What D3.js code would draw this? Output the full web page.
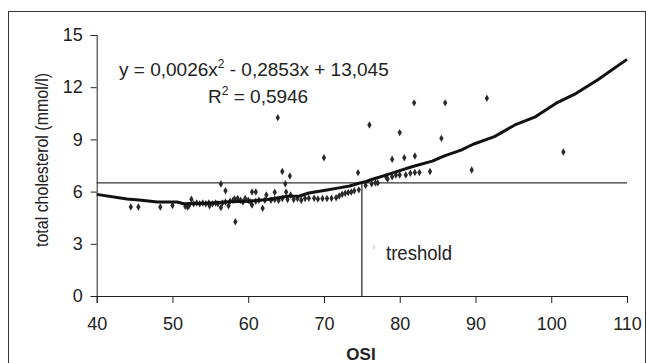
<!DOCTYPE html>
<html>
<head>
<meta charset="utf-8">
<script src="https://cdn.jsdelivr.net/npm/d3@7"></script>
<style>
  body { margin: 0; background: #fff; }
  text { font-family: "Liberation Sans", Arial, sans-serif; fill: #222; }
</style>
</head>
<body>
<div id="chart"></div>
<script>
// scatter points: [OSI, total cholesterol]
const points = [
  [44.5,5.12],[45.5,5.12],[48.4,5.12],[50.0,5.2],[51.7,5.15],[52.0,5.12],[52.2,5.2],[52.5,5.56],
  [52.8,5.3],[53.2,5.35],[53.6,5.3],[54.0,5.35],[54.4,5.3],[54.8,5.35],[54.9,5.18],[55.3,5.3],
  [55.7,5.35],[56.0,5.3],[56.4,5.08],[56.4,6.44],[56.6,5.35],[57.0,6.05],[57.0,5.4],[57.4,5.18],
  [57.6,5.45],[58.0,5.5],[58.2,5.58],[58.3,4.27],[58.6,5.6],[59.0,5.5],[59.3,5.4],[59.6,5.6],
  [60.0,5.5],[60.3,5.4],[60.5,5.98],[60.5,5.23],[61.0,5.98],[61.0,5.45],[61.4,5.5],[61.9,5.04],
  [62.2,5.5],[62.4,5.8],[63.0,5.5],[63.5,5.96],[63.5,5.55],[63.9,10.25],[64.0,5.5],[64.5,7.16],
  [64.5,5.6],[64.9,6.45],[65.0,5.98],[65.2,5.55],[65.5,6.9],[65.6,5.8],[66.0,5.55],[66.5,5.6],
  [67.0,5.5],[67.5,5.6],[68.0,5.62],[68.7,5.62],[69.2,5.58],[69.8,5.6],[70.0,7.95],[70.4,5.6],
  [71.0,5.62],[71.6,5.65],[72.0,5.75],[72.4,5.85],[72.8,5.9],[73.2,5.95],[73.6,5.98],[74.0,6.05],
  [74.5,7.09],[74.6,6.1],[75.5,6.35],[76.0,9.83],[76.3,6.45],[76.8,6.5],[77.1,6.5],[78.2,6.85],
  [78.4,6.72],[79.0,7.86],[79.0,6.85],[79.5,6.95],[80.0,9.39],[80.0,6.95],[80.6,7.95],[80.8,6.95],
  [81.4,7.05],[81.9,11.1],[82.0,8.05],[82.0,7.1],[82.6,7.1],[84.0,7.15],[85.5,9.06],[86.0,11.1],
  [89.5,7.24],[91.5,11.36],[101.6,8.28]
];

// fitted trend line as drawn
const trend = [
  [40,5.84],[44,5.58],[45.6,5.52],[48,5.4],[50.6,5.4],[51.5,5.3],[54.5,5.33],[57.6,5.42],
  [60,5.45],[62.5,5.55],[65.2,5.73],[66.8,5.75],[68,5.92],[70.2,6.08],[71.8,6.2],[73.4,6.32],
  [74.6,6.48],[75.6,6.58],[76.2,6.68],[78.9,7.05],[81.6,7.43],[84.3,7.75],[85.9,8.05],[88.1,8.38],
  [89.7,8.72],[92.5,9.16],[95.2,9.83],[97.9,10.3],[100.6,11.07],[103.3,11.65],[106.1,12.41],[110,13.6]
];

const xTicks = [40, 50, 60, 70, 80, 90, 100, 110];
const yTicks = [0, 3, 6, 9, 12, 15];
const thresholdOSI = 75;
const thresholdChol = 6.5;

const W = 646, H = 363;
const margin = {top: 35, right: 19, bottom: 67, left: 96.7};
const width = W - margin.left - margin.right;
const height = H - margin.top - margin.bottom;

const svg = d3.select("#chart").append("svg")
  .attr("width", W)
  .attr("height", H);

// outer frame
svg.append("rect")
  .attr("x", 8.5).attr("y", 11.5)
  .attr("width", 637).attr("height", 360)
  .attr("fill", "none").attr("stroke", "#333").attr("stroke-width", 1);

const g = svg.append("g")
  .attr("transform", "translate(" + margin.left + "," + margin.top + ")");

const x = d3.scaleLinear().domain([40, 110]).range([0, width]);
const y = d3.scaleLinear().domain([0, 15]).range([height, 0]);

// threshold lines
g.append("line")
  .attr("x1", x(40)).attr("x2", x(110))
  .attr("y1", y(thresholdChol)).attr("y2", y(thresholdChol))
  .attr("stroke", "#333").attr("stroke-width", 1.3);
g.append("line")
  .attr("x1", x(thresholdOSI)).attr("x2", x(thresholdOSI))
  .attr("y1", y(thresholdChol)).attr("y2", y(0))
  .attr("stroke", "#333").attr("stroke-width", 1.3);

// points
g.selectAll("path.pt")
  .data(points)
  .enter().append("path")
  .attr("class", "pt")
  .attr("d", d3.symbol().type(d3.symbolDiamond).size(16))
  .attr("transform", d => "translate(" + x(d[0]) + "," + y(d[1]) + ")")
  .attr("fill", "#2a2a2a");

// trend line
const line = d3.line()
  .x(d => x(d[0]))
  .y(d => y(d[1]));
g.append("path")
  .datum(trend)
  .attr("fill", "none")
  .attr("stroke", "#111")
  .attr("stroke-width", 3)
  .attr("stroke-linejoin", "round")
  .attr("d", line);

// axes
const xAxis = g.append("g")
  .attr("transform", "translate(0," + height + ")")
  .call(d3.axisBottom(x).tickValues(xTicks).tickSize(7).tickPadding(14));
const yAxis = g.append("g")
  .call(d3.axisLeft(y).tickValues(yTicks).tickSize(6).tickPadding(8));

[xAxis, yAxis].forEach(a => {
  a.select(".domain").attr("stroke", "#222");
  a.selectAll(".tick line").attr("stroke", "#222");
  a.selectAll(".tick text")
    .attr("font-family", "Liberation Sans, Arial, sans-serif")
    .attr("font-size", 18).attr("fill", "#222");
});

// axis titles
svg.append("text")
  .attr("x", 361).attr("y", 360)
  .attr("text-anchor", "middle")
  .attr("font-size", 17).attr("font-weight", "bold")
  .text("OSI");

svg.append("text")
  .attr("transform", "translate(48,160) rotate(-90)")
  .attr("text-anchor", "middle")
  .attr("font-size", 18)
  .attr("textLength", 174).attr("lengthAdjust", "spacingAndGlyphs")
  .text("total cholesterol (mmol/l)");

// equation
const eq = svg.append("text")
  .attr("x", 119).attr("y", 76)
  .attr("font-size", 19);
eq.append("tspan").text("y = 0,0026x");
eq.append("tspan").attr("font-size", 12).attr("dy", -8).text("2");
eq.append("tspan").attr("dy", 8).text(" - 0,2853x + 13,045");

const r2 = svg.append("text")
  .attr("x", 208).attr("y", 103)
  .attr("font-size", 19);
r2.append("tspan").text("R");
r2.append("tspan").attr("font-size", 12).attr("dy", -8).text("2");
r2.append("tspan").attr("dy", 8).text(" = 0,5946");

svg.append("text")
  .attr("x", 386).attr("y", 260)
  .attr("font-size", 20)
  .attr("textLength", 66).attr("lengthAdjust", "spacingAndGlyphs")
  .text("treshold");

// small scan mark beside the label
svg.append("line")
  .attr("x1", 374).attr("x2", 374).attr("y1", 245).attr("y2", 249)
  .attr("stroke", "#bbb").attr("stroke-width", 1);
</script>
</body>
</html>
